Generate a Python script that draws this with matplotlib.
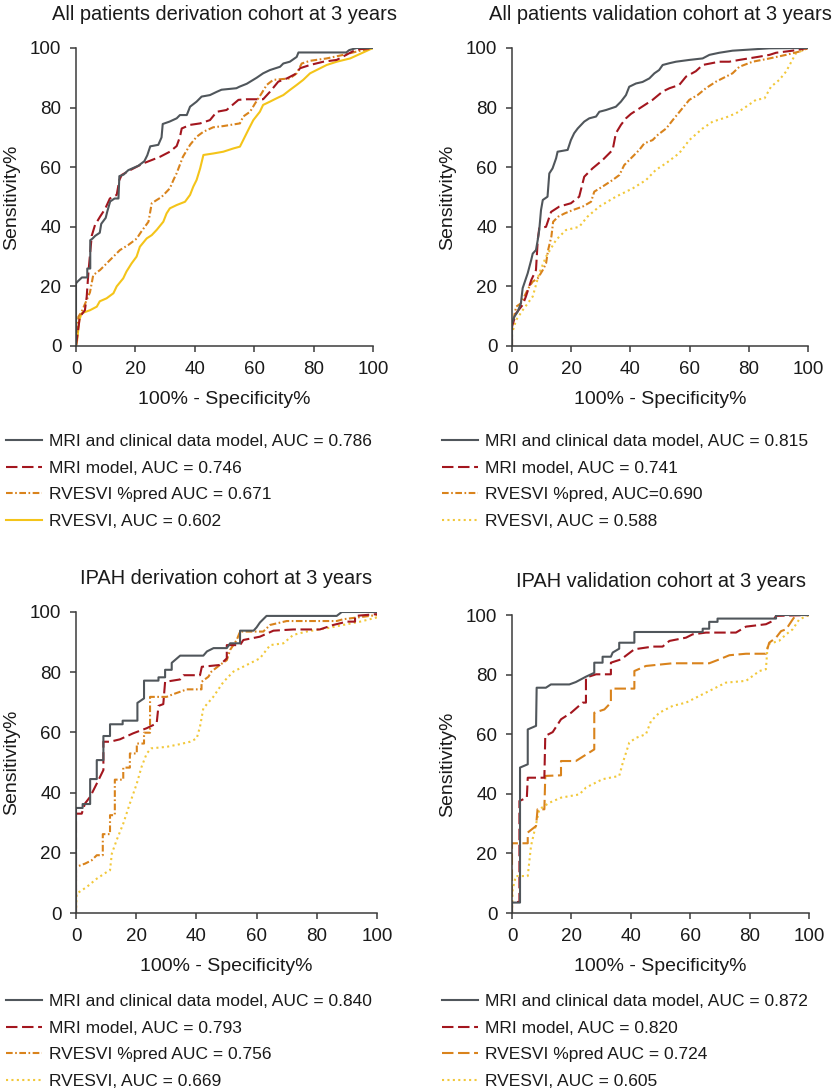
import matplotlib
matplotlib.use('Agg')
import matplotlib.pyplot as plt
from matplotlib.lines import Line2D

plt.rcParams['font.family'] = ['Liberation Sans', 'DejaVu Sans']

# ---------------- data ----------------
titles = ["All patients derivation cohort at 3 years",
          "All patients validation cohort at 3 years",
          "IPAH derivation cohort at 3 years",
          "IPAH validation cohort at 3 years"]

xticks = [0, 20, 40, 60, 80, 100]
yticks = [0, 20, 40, 60, 80, 100]

# Panel A: all patients derivation
a_clin_x = [0,0,0.5,2,3.8,3.8,4.8,4.8,5.5,6.5,8,8.5,10,10.5,11.5,13,14.3,14.6,16,17.6,21,23,24,25,27.7,28.8,29.2,31.5,33.9,35,37.3,38.4,40.6,42.3,45.1,47.4,49,54,55,57.5,60.8,63,65.3,68.7,69.8,72,74.3,74.9,91,92,94.5,100]
a_clin_y = [0,21,21.6,23,23,26,26,35.5,36,37,38,41,43,45,48.5,49.5,49.5,57,57.5,59,60.5,62,64,67,67.5,70,74.5,75.3,76.4,77.5,77.5,80.3,82,83.7,84.2,85.3,86,86.5,87,88,90,91.5,92.6,93.7,94.8,95.4,97,98.5,98.5,99.3,100,100]
a_mri_x = [0,1.3,3,3.6,4.2,5.3,6.4,8.1,9.8,11.4,13.7,14.6,15.4,18.2,22.7,25.5,28.3,31.6,33.9,35,35.6,38.4,41.8,45.1,47.4,50.7,54.7,57.5,63,65.3,68.1,71,74.3,75.4,78.8,83.3,87.8,91,93.4,95.6,100]
a_mri_y = [0,9.8,12,16.5,25,37,40.6,43.4,46,49.5,50.7,55.7,57.4,59,61.3,62.4,63.5,65.2,67.1,70.2,73,74.2,74.7,75.8,78.6,79.2,82.6,82.8,82.8,85.3,88.7,89.8,91.5,93.2,94.3,95.4,96,97.7,99,99.6,100]
a_pred_x = [0,0.8,1.9,4.7,5.8,8.1,9.2,12.6,14.8,17.6,20.4,22,24.4,25.5,27.2,28.8,31.6,32.8,33.9,36,38.4,40.6,42.9,46.2,49.6,55.2,56.3,58.6,60.3,62.5,64.2,66.4,72,74.3,76,78.8,84.4,90,94.5,100]
a_pred_y = [0,9.8,11.5,18,23.8,25.5,26.6,30,32.2,33.9,36,38.4,41.7,47.9,49,50,52.9,55.7,58,63.5,67.5,70.2,71.9,73.4,73.8,74.7,77,78.6,81.4,84.8,87.6,89.3,89.8,91.5,94.8,95.7,96.5,97.7,98.8,100]
a_rv_x = [0,0.4,1.1,1.9,4.7,7,8,10.3,12.6,13.7,15.9,17,18.7,20.4,21.5,23.8,25.5,27.2,29.4,30.5,31.6,33.9,36.7,38.4,39.5,40.6,41.8,42.9,46.2,49.6,53,55.2,56.3,58,59.7,61.9,63,65.3,67.5,69.8,72,74.3,76.5,78.8,81,84.4,87.8,92.3,95.6,100]
a_rv_y = [0,2,8.7,11,12,13.2,15,16,17.7,20,22.7,25,27.7,30,33.3,36.1,37.2,39,41.7,44.5,46.2,47.3,48.4,50.7,53.5,55.7,59.6,64.1,64.6,65.2,66.3,66.9,69.1,72.5,75.8,78.6,80.9,82,83.1,84.2,85.9,87.6,89.3,91.5,92.6,94.3,95.4,96.5,98,100]

# Panel B: all patients validation
b_clin_x = [0,0,0.8,1.9,3,3.6,5.3,6.5,7,8.1,8.7,9.2,9.8,10.4,12,12.6,13.7,14.9,15.4,18.8,19.9,21,22.2,24.4,26.1,28.4,29.5,31.8,35.1,36.8,38.5,39.6,41.9,44.1,46.4,48.1,49.7,50.9,53.2,55.4,59.9,64.4,66.7,70,74.5,87,100]
b_clin_y = [0,7.6,9.8,11.5,14.3,19.4,24.4,28.9,31,32.2,35.6,38.9,45.6,49,50.1,57.9,59.6,63,65.2,65.8,69.1,71.4,73,75.3,76.4,77,78.6,79.2,80.3,82,84.2,87,88.1,88.6,89.8,91.5,92.6,94.3,94.9,95.4,96,96.5,97.7,98.4,99.1,99.9,100]
b_mri_x = [0,0,1.4,3.6,4.7,6.5,8.1,8.7,9.2,11.5,13.2,16,19.9,22.7,24.4,27.2,30.6,34,35.1,36.8,38.5,40.2,44.1,47.5,50.9,53.2,56.5,58.8,62.1,64.4,70,73.4,76.8,83.6,87,89.2,94.8,100]
b_mri_y = [0,6.5,11,13.8,16.6,22.1,25.5,35.6,39.5,40,45,46.8,47.9,50.1,56.8,59.6,62.4,65.8,71.4,74.2,76.4,77.9,80.4,82.6,85.4,86.5,87.6,90.4,92.2,94.3,95.4,95.4,96,97.1,97.7,98.4,99.1,100]
b_pred_x = [0,0,1.4,3,4.7,5.9,7,8.7,10.4,11.5,12.2,13.3,13.9,15.6,17.8,20.5,23.9,26.7,27.8,30.6,34,36.3,37.9,40.2,43,44.7,47.5,49.2,52.1,54.3,57.1,59.9,62.7,65.5,68.9,72.3,74.5,76.8,81.3,87,92.6,97.1,100]
b_pred_y = [0,6.5,13.2,14.3,17.7,20,21.6,22.7,25.5,27.7,32.2,36.7,41.7,43.4,44.5,45.6,46.8,48.4,51.8,53.5,55.7,57.4,60.7,63,65.8,68,69.1,70.8,73,75.8,79.2,82.6,84.2,86.5,88.7,90.4,91.5,93.7,95.4,96.5,97.7,98.8,100]
b_rv_x = [0,0,1.4,3.6,7,9.2,11.5,14.9,18.2,22.7,25.5,29.5,35.1,40.8,45.3,48.6,52,56.5,59.9,64.4,67.8,72.3,75.7,79.1,82.4,85.3,87.5,90.3,92.6,95.9,100]
b_rv_y = [0,4.3,8.7,12,16.6,24.4,30,35.6,38.9,40,43.4,46.8,50.1,52.9,55.7,59.1,61.3,64.7,69.1,73,75.3,76.7,78.1,80.3,82.6,83.1,87,89.3,92.1,98.2,100]

# Panel C: IPAH derivation
c_clin_x = [0,0,2.2,2.2,4.7,4.7,6.9,6.9,9.1,9.1,11.3,11.3,15.5,15.5,20.4,20.4,22.6,22.6,27.4,27.4,29.6,29.6,31.8,31.8,34.6,42.3,43.5,45.7,50.1,51.2,54.5,54.5,59,60,61.1,63.3,86.6,88.3,100]
c_clin_y = [0,34.9,34.9,36.2,36.2,44.5,44.5,50.8,50.8,58.8,58.8,62.7,62.7,63.9,63.9,69.8,71.3,77.2,77.2,78.3,78.3,80.8,80.8,83.1,85.5,85.5,86.9,88,88,89.6,89.6,93.8,93.8,94.9,96.5,98.7,98.7,100,100]
c_mri_x = [0,0,1.9,3,4.7,6.9,9.1,9.1,11.3,14.6,19,23.5,26.8,27.4,29,29.6,34.6,35.7,41.2,41.8,47.8,50.1,50.1,54.5,55.6,61.1,65.6,72.2,81,85.5,90,92.7,92.7,100]
c_mri_y = [0,33,33,36.4,38.6,43,47.5,56.9,56.9,57.7,59.7,61.4,63,68.8,69.4,76.8,77.6,79,79,81.8,82.4,84.6,89,89,90.7,91.8,93.8,94.2,94.2,95.7,96.8,96.8,98.7,99.3]
c_pred_x = [0,0,3,5.2,6.9,8.9,8.9,11.3,11.3,12.9,12.9,15.7,15.7,17.9,17.9,20.2,20.2,22.6,22.6,24.6,24.6,30.1,32.3,34.6,36.8,41.7,41.7,44,45,47.8,50.1,51.2,53.4,54.5,62.2,64.5,70,86.6,88.8,100]
c_pred_y = [0,15.3,16.4,17.5,19.2,19.2,26.2,26.2,32.5,32.5,44.3,44.3,48.3,48.3,53,53,56.3,56.3,59.9,59.9,71.8,71.8,72.7,73.5,74.3,74.3,76.8,78.5,80.2,82.4,84,87.4,90.7,93.5,93.5,95.7,97,97,97.6,99]
c_rv_x = [0,0.2,3.5,6.9,10.2,11.3,11.9,13.5,15.7,17.9,20.2,21.8,23.5,25,30.1,34.6,37.9,40.1,41.2,42.3,45.6,49,52.3,56.7,61.1,64.5,68.9,72.2,76.6,83.3,88.8,94.4,100]
c_rv_y = [0,6.4,8.6,11.4,13.6,14.2,19.7,24.2,29.7,36.4,43,48.6,53,54.7,55.2,56.1,56.9,58,61.9,68,71.8,76.8,80.2,82.4,84.6,89,89.6,92.4,93.5,94.6,95.7,96.8,98.2]

# Panel D: IPAH validation
d_clin_x = [0,0,2.7,2.7,5.3,5.3,8.1,8.3,11.4,13.1,19.3,21.5,24.9,27.7,27.7,30.5,30.5,33.3,33.9,36.1,36.1,41.2,41.2,64.2,64.2,66.4,66.4,69.2,69.2,88.9,88.9,100]
d_clin_y = [0,3.5,3.5,48.8,49.9,61.6,62.8,75.6,75.6,76.7,76.7,77.5,79.3,80.6,84,84,86,86,87.4,88.7,90.7,90.7,94.3,94.3,95.4,95.4,97.7,97.7,98.8,98.8,100,100]
d_mri_x = [0,0,2.5,2.5,5,5.3,10.9,11.2,13.7,16.5,19.9,23.8,24.9,24.9,28.3,33.3,33.3,36.7,41.2,47.4,50.7,53,58.6,60.8,65.3,75.4,78.8,85.5,87.8,88.9,100]
d_mri_y = [0,3.7,3.7,37.6,38.7,45.4,45.4,59.4,60.7,65,67.2,70.6,70.6,79,80.1,80.1,84,85.1,88.5,89.4,89.4,91.3,92.4,93.5,94.1,94.1,96.1,96.9,98,99.7,100]
d_pred_x = [0,0,5.3,5.3,8.1,8.6,10.9,11.2,16.5,16.5,21.5,27.7,27.7,31.1,33.3,33.3,41.2,41.2,45.1,54.1,66.4,69.8,73.2,78.8,85.5,86.6,88.9,90.6,92.3,94.5,95.6,100]
d_pred_y = [0,23.4,23.4,27,29.2,34.8,34.8,46,46.2,51,51,54.9,67.2,68.3,70.6,75.3,75.3,81.2,82.9,83.8,83.8,85.1,86.5,87,87,90.7,92.4,94.6,95.2,98.5,100,100]
d_rv_x = [0,0.2,1.3,5.3,6.4,8.1,9.2,12.6,16.5,22.7,24.9,30.5,36.1,37.3,39.5,41.8,45.1,46.8,49.6,54.1,58.6,63,67.6,72,78.8,83.3,85.5,86.1,89.9,92.3,94.5,96.7,100]
d_rv_y = [0,7.9,12.4,12.4,22.5,29.8,34.8,37,38.7,39.8,42.1,44.9,46,50.4,57.2,58.8,60,64.4,67.2,69.5,70.6,72.8,75.1,77.3,77.9,81.2,81.8,90.2,91.3,93.5,95.2,98.5,100]

a_labels = ["MRI and clinical data model, AUC = 0.786", "MRI model, AUC = 0.746",
            "RVESVI %pred AUC = 0.671", "RVESVI, AUC = 0.602"]
b_labels = ["MRI and clinical data model, AUC = 0.815", "MRI model, AUC = 0.741",
            "RVESVI %pred, AUC=0.690", "RVESVI, AUC = 0.588"]
c_labels = ["MRI and clinical data model, AUC = 0.840", "MRI model, AUC = 0.793",
            "RVESVI %pred AUC = 0.756", "RVESVI, AUC = 0.669"]
d_labels = ["MRI and clinical data model, AUC = 0.872", "MRI model, AUC = 0.820",
            "RVESVI %pred AUC = 0.724", "RVESVI, AUC = 0.605"]

# ---------------- styles ----------------
GRAY = '#50565b'
RED = '#a3161e'
ORANGE = '#d9831c'
YELLOW = '#f4c419'
YELLOW_DOT = '#f2c83a'

solid = dict(ls='-')
dashed = dict(ls=(0, (5.5, 2.2)))
dashdot = dict(ls=(0, (3.2, 1.2, 0.8, 1.2)))
dotted = dict(ls=(0, (1, 1.6)))

W, H = 832, 1089
fig = plt.figure(figsize=(W / 100, H / 100), dpi=100)


def rect(l, t, r, b):
    return [l / W, 1 - b / H, (r - l) / W, (b - t) / H]


panels = [
    dict(box=(76, 48, 373, 346), title=titles[0], leg=(6, 434),
         curves=[(a_clin_x, a_clin_y, GRAY, solid), (a_mri_x, a_mri_y, RED, dashed),
                 (a_pred_x, a_pred_y, ORANGE, dashdot), (a_rv_x, a_rv_y, YELLOW, solid)],
         labels=a_labels),
    dict(box=(512, 48, 808, 346), title=titles[1], leg=(442, 434),
         curves=[(b_clin_x, b_clin_y, GRAY, solid), (b_mri_x, b_mri_y, RED, dashed),
                 (b_pred_x, b_pred_y, ORANGE, dashdot), (b_rv_x, b_rv_y, YELLOW_DOT, dotted)],
         labels=b_labels),
    dict(box=(76, 612, 377, 913), title=titles[2], leg=(6, 994),
         curves=[(c_clin_x, c_clin_y, GRAY, solid), (c_mri_x, c_mri_y, RED, dashed),
                 (c_pred_x, c_pred_y, ORANGE, dashdot), (c_rv_x, c_rv_y, YELLOW_DOT, dotted)],
         labels=c_labels),
    dict(box=(512, 615, 809, 913), title=titles[3], leg=(442, 994),
         curves=[(d_clin_x, d_clin_y, GRAY, solid), (d_mri_x, d_mri_y, RED, dashed),
                 (d_pred_x, d_pred_y, ORANGE, dashed), (d_rv_x, d_rv_y, YELLOW_DOT, dotted)],
         labels=d_labels),
]

AXCOL = '#3c3c3c'
for p in panels:
    ax = fig.add_axes(rect(*p['box']))
    handles = []
    # draw in reverse so the gray curve is on top
    for (x, y, col, st) in reversed(p['curves']):
        ax.plot(x, y, color=col, lw=1.5, **st)
    for (x, y, col, st) in p['curves']:
        handles.append(Line2D([], [], color=col, lw=1.5, **st))
    ax.set_xlim(0, 100)
    ax.set_ylim(0, 100)
    ax.set_xticks(xticks)
    ax.set_yticks(yticks)
    for s in ['top', 'right']:
        ax.spines[s].set_visible(False)
    for s in ['left', 'bottom']:
        ax.spines[s].set_color(AXCOL)
        ax.spines[s].set_linewidth(1.1)
    ax.tick_params(direction='out', length=4.5, width=1.1, color=AXCOL,
                   labelsize=13.5, labelcolor='#1a1a1a', pad=6)
    ax.set_title(p['title'], fontsize=14.4, pad=20, color='#1a1a1a')
    ax.set_xlabel('100% - Specificity%', fontsize=14, labelpad=10, color='#1a1a1a')
    ax.set_ylabel('Sensitivity%', fontsize=14, labelpad=7, color='#1a1a1a')
    lx, ly = p['leg']
    ax.legend(handles, p['labels'], loc='upper left',
              bbox_to_anchor=(lx / W, 1 - ly / H), bbox_transform=fig.transFigure,
              frameon=False, fontsize=12.5, handlelength=2.1, handletextpad=0.35,
              labelspacing=0.66, borderpad=0, borderaxespad=0, labelcolor='#1a1a1a')

fig.savefig('out.png', dpi=100)
